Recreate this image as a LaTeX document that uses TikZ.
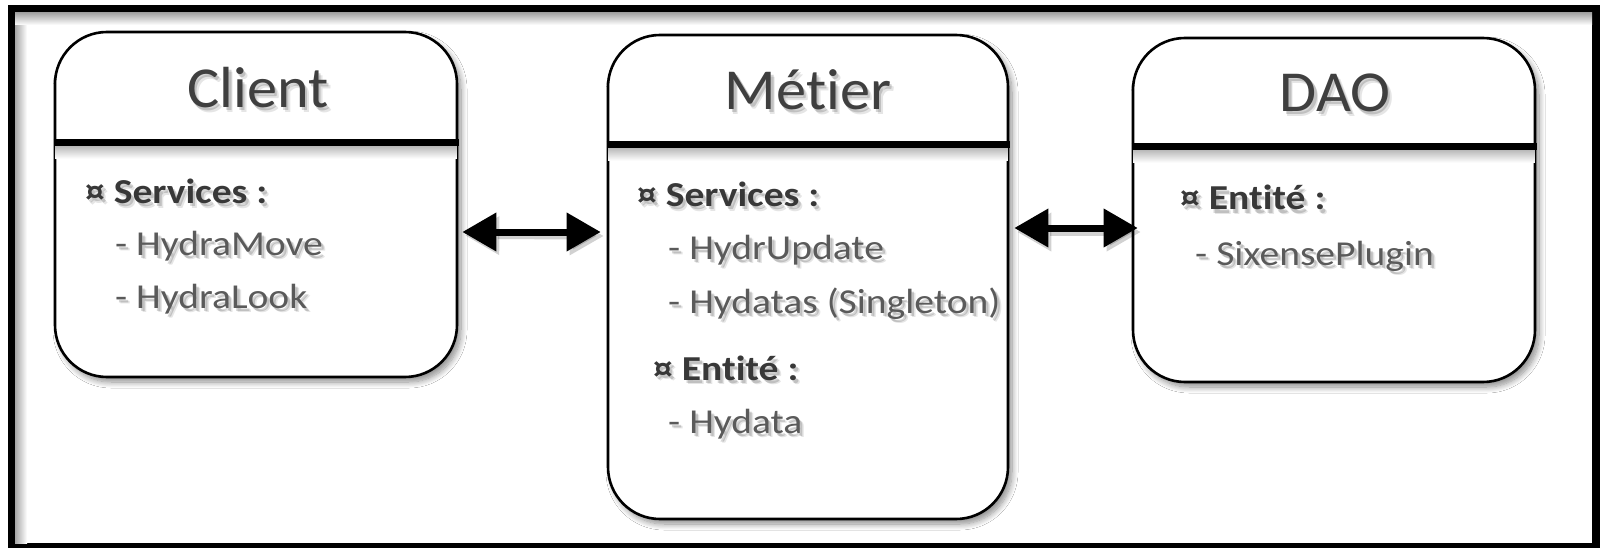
\documentclass[tikz,border=0pt]{standalone}
\usepackage{fontspec}
\setmainfont{Carlito}[FakeStretch=1.13, Ligatures=CommonOff]
\newfontfamily\titlefont{Carlito}[FakeStretch=1.04, Ligatures=CommonOff]
\usetikzlibrary{arrows.meta,shadows.blur}

\definecolor{titlegray}{HTML}{3F3F3F}
\definecolor{headgray}{HTML}{383838}
\definecolor{itemgray}{HTML}{5A5A5A}

\tikzset{
  layerbox/.style={draw=black, line width=2.6pt, rounded corners=52pt, fill=white,
    inner sep=0pt,
    blur shadow={shadow xshift=4pt, shadow yshift=-5pt, shadow blur radius=6pt,
      shadow blur steps=10, shadow opacity=45}},
  divider/.style={line width=6.5pt, line cap=butt},
  dividershade/.style={top color=black!28, bottom color=white},
  titletext/.style={inner sep=0pt, anchor=base, text=titlegray,
    font=\titlefont\fontsize{58}{60}\selectfont},
  headtext/.style={inner sep=0pt, anchor=base west, text=headgray,
    font=\fontsize{35}{40}\selectfont\bfseries},
  itemtext/.style={inner sep=0pt, anchor=base west, text=itemgray,
    font=\fontsize{35}{40}\selectfont},
  biarrow/.style={line width=7pt,
    {Triangle[length=34pt,width=37pt]}-{Triangle[length=34pt,width=37pt]}},
  arrowshadow/.style={biarrow, draw=black, opacity=0.18}
}

% text with a soft drop shadow: #1 name, #2 position, #3 style, #4 text
\newcommand\shtext[4]{%
  \node[#3, text=black, opacity=0.10] at ([shift={(4pt,-4.5pt)}]#2) {#4};
  \node[#3, text=black, opacity=0.16] at ([shift={(2.5pt,-3pt)}]#2) {#4};
  \node[#3] (#1) at (#2) {#4};}

\begin{document}
\begin{tikzpicture}[x=1pt, y=-1pt]
  % canvas and outer frame
  \useasboundingbox (0,0) rectangle (1600,548);
  \fill[white] (0,0) rectangle (1600,548);
  \fill[black] (8,5) rectangle (1600,548);
  \fill[white] (15,13) rectangle (1592,543);
  \shade[left color=black!35, right color=white] (15,13) rectangle (27,543);
  \shade[top color=black!35, bottom color=white] (15,13) rectangle (1592,25);

  % the three layers
  \node[layerbox, minimum width=402pt, minimum height=345pt] (client) at (256,204.5) {};
  \node[layerbox, minimum width=400pt, minimum height=484pt] (metier) at (808,277) {};
  \node[layerbox, minimum width=402pt, minimum height=344pt] (dao)    at (1334,210) {};

  % header separators
  \shade[dividershade] ([xshift=1.5pt,yshift=-115pt]client.north west)
    rectangle ([xshift=-1.5pt,yshift=-128pt]client.north east);
  \draw[divider] ([yshift=-112pt]client.north west) -- ([xshift=1pt,yshift=-112pt]client.north east);
  \shade[dividershade] ([xshift=1.5pt,yshift=-114pt]metier.north west)
    rectangle ([xshift=-1.5pt,yshift=-127pt]metier.north east);
  \draw[divider] ([yshift=-111pt]metier.north west) -- ([xshift=1pt,yshift=-111pt]metier.north east);
  \shade[dividershade] ([xshift=1.5pt,yshift=-113pt]dao.north west)
    rectangle ([xshift=-1.5pt,yshift=-126pt]dao.north east);
  \draw[divider] ([yshift=-110pt]dao.north west) -- ([xshift=1pt,yshift=-110pt]dao.north east);

  % titles
  \shtext{clienttitle}{258,108}{titletext}{Client}
  \shtext{metiertitle}{808,110}{titletext}{Métier}
  \shtext{daotitle}{1335,112}{titletext}{DAO}

  % Client contents
  \shtext{cs}{85,204}{headtext}{¤ Services :}
  \shtext{cs1}{115,255}{itemtext}{- HydraMove}
  \shtext{cs2}{115,308}{itemtext}{- HydraLook}

  % Métier contents
  \shtext{ms}{637,207}{headtext}{¤ Services :}
  \shtext{ms1}{668,259}{itemtext}{- HydrUpdate}
  \shtext{ms2}{668,313}{itemtext}{- Hydatas (Singleton)}
  \shtext{me}{653,380}{headtext}{¤ Entité :}
  \shtext{me1}{668,433}{itemtext}{- Hydata}

  % DAO contents
  \shtext{de}{1180,210}{headtext}{¤ Entité :}
  \shtext{de1}{1195,265}{itemtext}{- SixensePlugin}

  % connectors between layers
  \draw[arrowshadow] ([xshift=7pt,yshift=-31pt]client.east) -- ([xshift=-3pt,yshift=41pt]metier.west);
  \draw[biarrow] ([xshift=4pt,yshift=-27.5pt]client.east) -- ([xshift=-6pt,yshift=45pt]metier.west);
  \draw[arrowshadow] ([xshift=8pt,yshift=45pt]metier.east) -- ([xshift=9pt,yshift=-22pt]dao.west);
  \draw[biarrow] ([xshift=5pt,yshift=49pt]metier.east) -- ([xshift=6pt,yshift=-18pt]dao.west);
\end{tikzpicture}
\end{document}
